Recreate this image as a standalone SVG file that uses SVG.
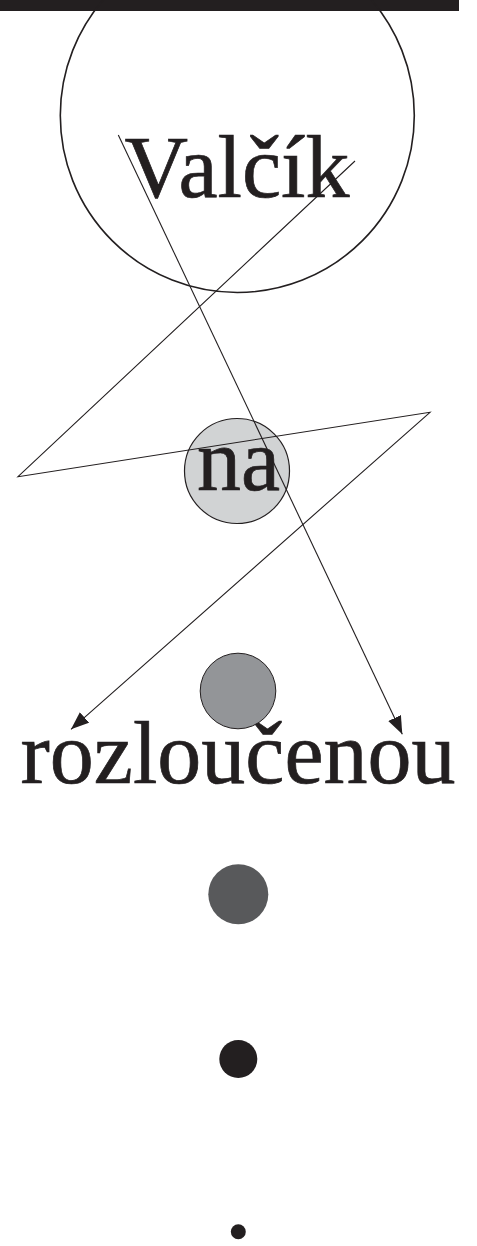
<svg xmlns="http://www.w3.org/2000/svg" width="477" height="1246" viewBox="0 0 477 1246">
<style>
.lbl{font-family:"Liberation Serif","Times New Roman",serif;font-size:88px;fill:#231f20;stroke:#231f20;stroke-width:0.7;text-anchor:middle}
.edge{fill:none;stroke:#231f20;stroke-width:1.1}
</style>
<defs>
<marker id="arr" markerUnits="userSpaceOnUse" markerWidth="19" markerHeight="14" refX="18" refY="7" orient="auto">
<path d="M0,0 L18,7 L0,14 z" fill="#231f20"/>
</marker>
</defs>
<rect x="0" y="0" width="459" height="11" fill="#231f20"/>
<g id="node-valcik">
<circle cx="237.3" cy="115.5" r="177" fill="none" stroke="#231f20" stroke-width="1.6"/>
<text class="lbl" x="237" y="196.5">Valčík</text>
</g>
<g id="node-na">
<circle cx="237" cy="471" r="52.5" fill="#d1d3d4" stroke="#231f20" stroke-width="1.2"/>
<text class="lbl" x="238.5" y="490">na</text>
</g>
<g id="node-rozloucenou">
<text class="lbl" x="238" y="783.3">rozloučenou</text>
</g>
<g id="node-dot1">
<circle cx="238" cy="691" r="37.8" fill="#939598" stroke="#231f20" stroke-width="1"/>
</g>
<g id="node-dot2">
<circle cx="238.3" cy="894.3" r="30" fill="#58595b"/>
</g>
<g id="node-dot3">
<circle cx="238.3" cy="1059" r="19" fill="#231f20"/>
</g>
<g id="node-dot4">
<circle cx="238.3" cy="1231.7" r="7.5" fill="#231f20"/>
</g>
<g id="connectors">
<path class="edge" d="M118.3,135 L402.3,734.3" marker-end="url(#arr)"/>
<path class="edge" d="M355,161 L18,476.7 L430,412.3 L71,729.3" marker-end="url(#arr)"/>
</g>
</svg>
